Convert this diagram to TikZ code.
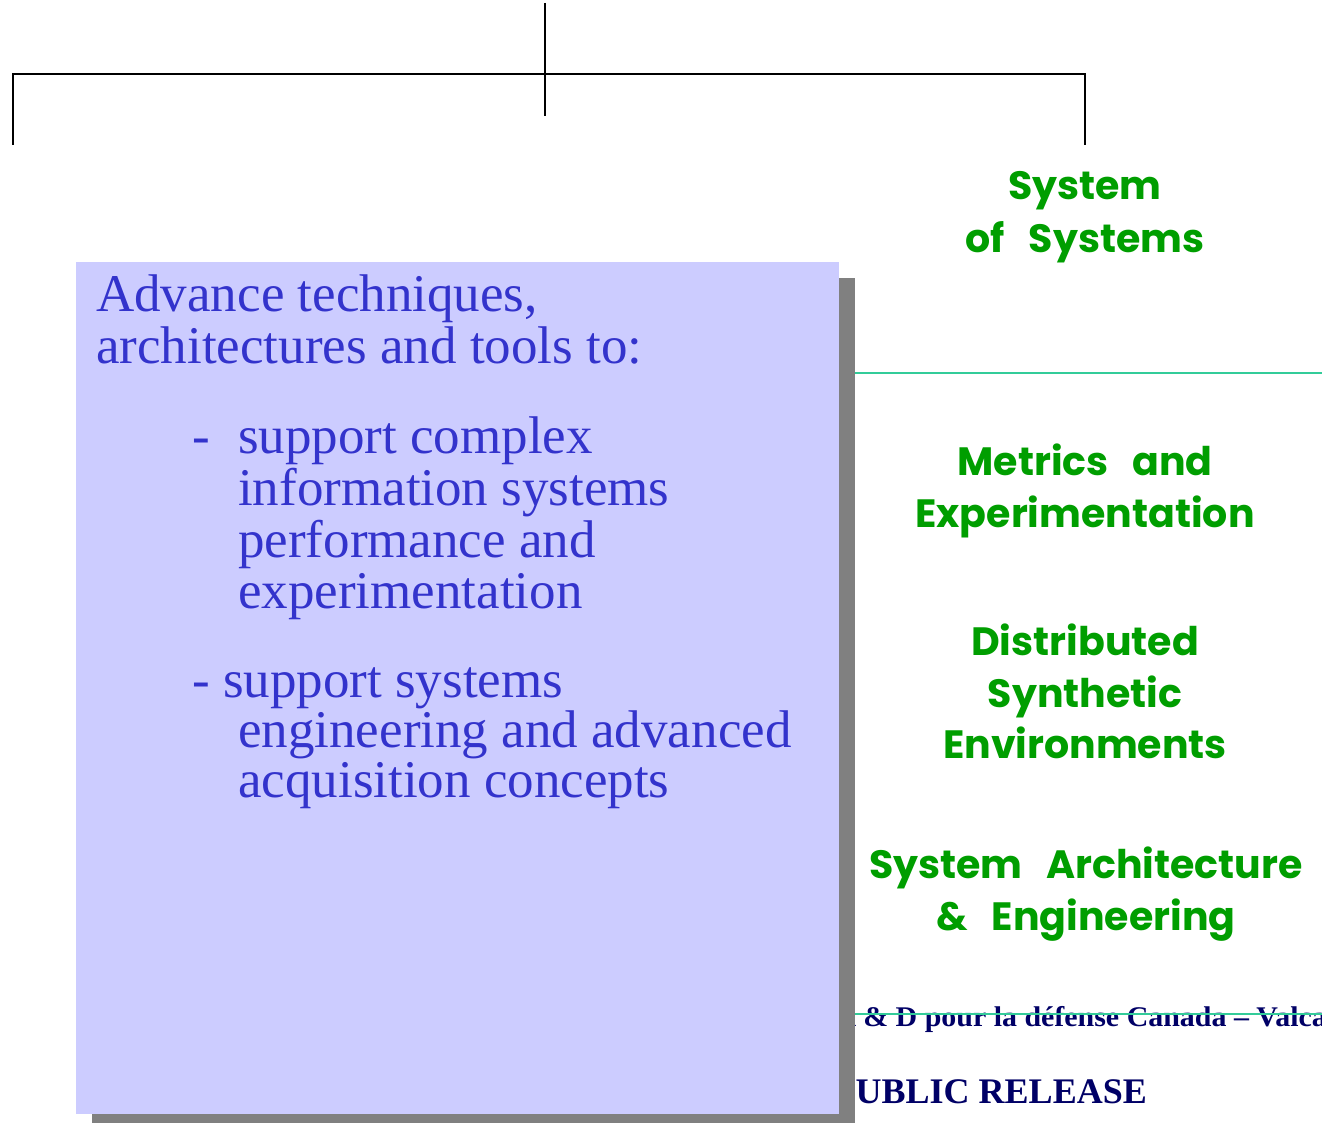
\documentclass[tikz,border=0pt]{standalone}
\usepackage{fontspec}
\setmainfont{Liberation Serif}
\newfontfamily\greenfont{Poppins}
\newfontfamily\footfont{Liberation Serif}[FakeStretch=1.05]
\definecolor{boxfill}{HTML}{CCCCFF}
\definecolor{shadowgray}{HTML}{808080}
\definecolor{bluetext}{HTML}{3333CC}
\definecolor{greentext}{HTML}{009E00}
\definecolor{navytext}{HTML}{000066}
\definecolor{tealline}{HTML}{33CC99}
\newcommand{\gsp}{\hspace{0.6em}}
\begin{document}
\begin{tikzpicture}[x=1pt,y=-1pt,
  treeline/.style={line width=2.5pt,black},
  rule/.style={line width=2pt,tealline},
  bluel/.style={anchor=base west,inner sep=0pt,text=bluetext,font=\fontsize{53}{52}\selectfont},
  greenl/.style={anchor=base,inner sep=0pt,text=greentext,font=\greenfont\bfseries\fontsize{39.5}{52}\selectfont},
  footer/.style={inner sep=0pt,text=navytext}
]
\useasboundingbox (0,0) rectangle (1322,1123);
\clip (0,0) rectangle (1322,1123);
\fill[white] (0,0) rectangle (1322,1123);

% tree connector
\coordinate (top) at (545,3);
\coordinate (stem) at (545,116);
\coordinate (hl) at (13,74);
\coordinate (hr) at (1085,74);
\coordinate (ll) at (13,145);
\coordinate (rr) at (1085,145);
\draw[treeline] (top) -- (stem);
\draw[treeline,line join=miter] (ll) -- (hl) -- (hr) -- (rr);

% green labels
\node[greenl] (sos1) at (1085,200) {System};
\node[greenl] (sos2) at (1085,253) {of\gsp Systems};
\node[greenl] (me1) at (1085,475) {Metrics\gsp and};
\node[greenl] (me2) at (1085,527) {Experimentation};
\node[greenl] (dse1) at (1085,655) {Distributed};
\node[greenl] (dse2) at (1085,707) {Synthetic};
\node[greenl] (dse3) at (1085,758) {Environments};
\node[greenl] (sae1) at (1086,878) {System\gsp Architecture};
\node[greenl] (sae2) at (1086,930) {\&\gsp Engineering};

% footer text
\node[footer,anchor=base west,font=\footfont\bfseries\fontsize{28.5}{30}\selectfont] (foot1) at (834,1026) {R \& D pour la défense Canada – Valca};
\node[footer,anchor=base east,font=\bfseries\fontsize{36}{40}\selectfont] (foot2) at (1147,1103) {PUBLIC RELEASE};

% teal rules
\coordinate (r1a) at (855,373);
\coordinate (r1b) at (1322,373);
\coordinate (r2a) at (855,1014);
\coordinate (r2b) at (1322,1014);
\draw[rule] (r1a) -- (r1b);
\draw[rule] (r2a) -- (r2b);

% box with shadow
\fill[shadowgray] (92,278) rectangle (855,1130);
\fill[boxfill] (76,262) rectangle (839,1114);

% box text
\node[bluel] (t1) at (96,312) {Advance techniques,};
\node[bluel] (t2) at (96,363) {architectures and tools to:};
\node[bluel] (d1) at (192,453) {-};
\node[bluel] (t3) at (238,453) {support complex};
\node[bluel] (t4) at (238,505) {information systems};
\node[bluel] (t5) at (238,557) {performance and};
\node[bluel] (t6) at (238,608) {experimentation};
\node[bluel] (t7) at (192,697) {- support systems};
\node[bluel] (t8) at (238,747) {engineering and advanced};
\node[bluel] (t9) at (238,797) {acquisition concepts};
\end{tikzpicture}
\end{document}
